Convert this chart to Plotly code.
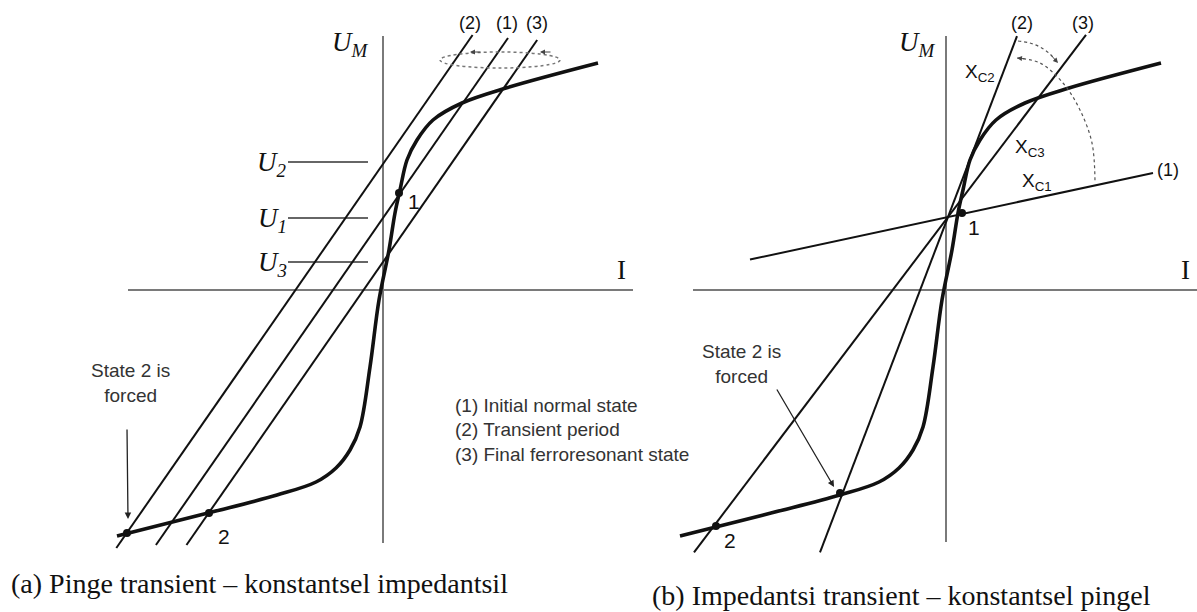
import plotly.graph_objects as go

# ---------------- data (I, U) in diagram units, origin at the axes crossing ----------------
# magnetisation characteristic (same for both panels)
curve_i = [-266, -175, -106, -67, -47, -33, -23, -13, -4, 6, 12, 17, 24, 34, 50, 79, 123, 215]
curve_u = [-246, -223, -205, -192, -178, -160, -137, -77, -10, 40, 77, 100, 130, 150, 170, 187, 202, 227]

# panel (a): parallel capacitor lines, constant slope, different source voltage
a_names = ["(2)", "(1)", "(3)"]
a_slope = 1.44
a_icept = [126, 72, 28]          # U2, U1, U3
a_utop = [255, 252, 250]
a_ubot = [-258, -255, -255]
a_tick_u = [128, 72, 28]
a_tick_lbl = ["U<sub>2</sub>", "U<sub>1</sub>", "U<sub>3</sub>"]
a_pts_i = [16, -256, -174]
a_pts_u = [97, -243, -223]

# panel (b): lines through a common point, different slopes
b_names = ["(1)", "(2)", "(3)"]
b_pivot = (2, 73)
b_slope = [0.215, 2.62, 1.32]
b_i0 = [-196, -126, -252]
b_i1 = [207, 71, 140]
b_pts_i = [16, -106, -230]
b_pts_u = [77, -203, -236]
arcA_i = [72, 84, 94, 104, 112]
arcA_u = [249, 247, 243, 236, 227]
arcB_i = [71, 94, 117, 134, 146, 149]
arcB_u = [232, 227, 207, 180, 147, 108]

legend_lines = ["(1) Initial normal state", "(2) Transient period", "(3) Final ferroresonant state"]

BLACK = "#111111"
GREY = "#7a7a7a"
SERIF = "Liberation Serif, Times New Roman, serif"
SANS = "Liberation Sans, Arial, sans-serif"

fig = go.Figure()


def add(xs, ys, ax, width=2.0, color=BLACK, shape="linear", dash="solid"):
    fig.add_trace(go.Scatter(x=xs, y=ys, xaxis=ax, yaxis="y", mode="lines",
                             line=dict(color=color, width=width, shape=shape, dash=dash,
                                       smoothing=1.0 if shape == "spline" else None),
                             hoverinfo="skip", showlegend=False))


# ---- panel (a) ----
add([0, 0], [254, -253], "x", width=2, color=GREY)
add([-255, 250], [0, 0], "x", width=2, color=GREY)
for u in a_tick_u:
    add([-95, -15], [u, u], "x", width=1.6, color="#333333")
for c, ut, ub in zip(a_icept, a_utop, a_ubot):
    add([(ub - c) / a_slope, (ut - c) / a_slope], [ub, ut], "x")
add(curve_i, curve_u, "x", width=3.6, shape="spline")
fig.add_trace(go.Scatter(x=a_pts_i, y=a_pts_u, xaxis="x", yaxis="y", mode="markers",
                         marker=dict(color=BLACK, size=8), hoverinfo="skip", showlegend=False))

# ---- panel (b) ----
add([0, 0], [254, -252], "x2", width=2, color=GREY)
add([-253, 251], [0, 0], "x2", width=2, color=GREY)
for s, i0, i1 in zip(b_slope, b_i0, b_i1):
    add([i0, i1], [b_pivot[1] + s * (i0 - b_pivot[0]), b_pivot[1] + s * (i1 - b_pivot[0])], "x2")
add(curve_i, curve_u, "x2", width=3.6, shape="spline")
fig.add_trace(go.Scatter(x=b_pts_i, y=b_pts_u, xaxis="x2", yaxis="y", mode="markers",
                         marker=dict(color=BLACK, size=8), hoverinfo="skip", showlegend=False))
add(arcA_i, arcA_u, "x2", width=1.2, color="#555555", shape="spline", dash="dot")
add(arcB_i, arcB_u, "x2", width=1.2, color="#555555", shape="spline", dash="dot")

ann = []


def txt(x, y, t, xref, size=19, font=SANS, color=BLACK, xanchor="center", yanchor="middle", italic=False):
    ann.append(dict(x=x, y=y, xref=xref, yref="y", text=(f"<i>{t}</i>" if italic else t),
                    showarrow=False, xanchor=xanchor, yanchor=yanchor,
                    font=dict(family=font, size=size, color=color)))


def arrow(xh, yh, xt, yt, xref, size=1.0, width=1.3, color="#222222"):
    ann.append(dict(x=xh, y=yh, ax=xt, ay=yt, xref=xref, yref="y", axref=xref, ayref="y",
                    text="", showarrow=True, arrowhead=2, arrowsize=size, arrowwidth=width,
                    arrowcolor=color))


# panel (a) text
txt(-33, 246, "U<sub>M</sub>", "x", size=27, font=SERIF, italic=True)
for u, lbl in zip(a_tick_u, a_tick_lbl):
    txt(-94, u - 2, lbl, "x", size=27, font=SERIF, italic=True, xanchor="right")
txt(238, 20, "I", "x", size=27, font=SERIF)
for n, xi in zip(a_names, [87, 124, 154]):
    txt(xi, 267, n, "x", size=18)
txt(31, 89, "1", "x", size=21)
txt(-159, -246, "2", "x", size=21)
txt(-253, -93, "State 2 is<br>forced", "x", size=19, color="#333333")
arrow(-255, -229, -256, -138, "x")
arrow(87, 238, 99, 238, "x", size=1.0, width=1, color="#444444")
arrow(157, 238, 169, 238, "x", size=1.0, width=1, color="#444444")
for k, line in enumerate(legend_lines):
    txt(70, -115 - 24.5 * k, line, "x", size=19, color="#333333", xanchor="left")
txt(-124, -293, "(a) Pinge transient – konstantsel impedantsil", "x", size=28, font=SERIF)

# panel (b) text
txt(-29, 246, "U<sub>M</sub>", "x2", size=27, font=SERIF, italic=True)
txt(239, 20, "I", "x2", size=27, font=SERIF)
txt(76, 267, "(2)", "x2", size=18)
txt(137, 267, "(3)", "x2", size=18)
txt(222, 120, "(1)", "x2", size=18)
txt(34, 217, "X<sub>C2</sub>", "x2", size=19)
txt(84, 142, "X<sub>C3</sub>", "x2", size=19)
txt(91, 108, "X<sub>C1</sub>", "x2", size=19)
txt(28, 63, "1", "x2", size=21)
txt(-216, -250, "2", "x2", size=21)
txt(-205, -74, "State 2 is<br>forced", "x2", size=19, color="#333333")
arrow(-112, -197, -170, -98, "x2")
arrow(112, 227, 104, 236, "x2", size=1.0, width=1, color="#444444")
arrow(71, 232, 80, 231, "x2", size=1.0, width=1, color="#444444")
txt(-45, -305, "(b) Impedantsi transient – konstantsel pingel", "x2", size=28, font=SERIF)

ellipse = dict(type="circle", xref="x", yref="y", x0=57, x1=177, y0=222, y1=238,
               line=dict(color="#777777", width=1.5, dash="dot"))

fig.update_layout(
    width=1197, height=612,
    margin=dict(l=0, r=0, t=0, b=0),
    paper_bgcolor="white", plot_bgcolor="white",
    xaxis=dict(range=[-383, 814], visible=False, domain=[0, 1]),
    xaxis2=dict(range=[-946, 251], visible=False, overlaying="x", anchor="y"),
    yaxis=dict(range=[-322, 290], visible=False, domain=[0, 1]),
    annotations=ann, shapes=[ellipse], showlegend=False,
)

fig.write_html("out.html", config={"displayModeBar": False},
               post_script="document.body.style.margin='0';document.body.style.overflow='hidden';")
